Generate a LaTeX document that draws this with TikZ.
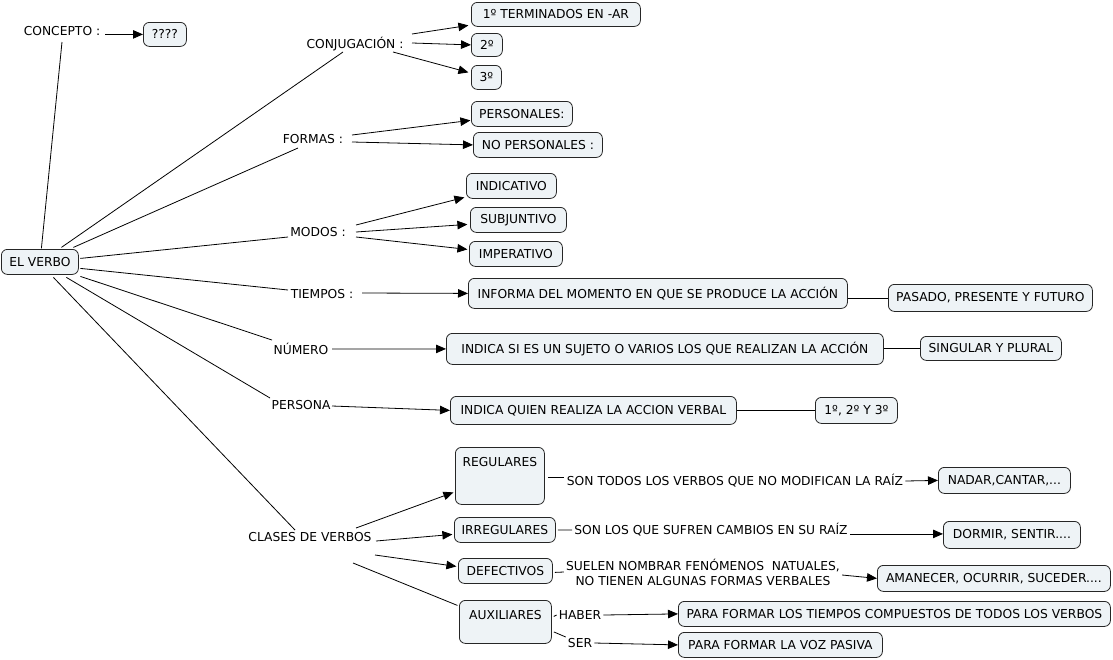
\documentclass[tikz,border=0pt]{standalone}
\usepackage{fontspec}
\setmainfont{DejaVu Sans}
\usetikzlibrary{arrows.meta,calc}
\definecolor{boxfill}{RGB}{238,243,246}
\begin{document}
\begin{tikzpicture}[x=1pt,y=-1pt,
  font=\fontsize{12.3}{15}\selectfont,
  box/.style={draw=black!85,fill=boxfill,rounded corners=6pt,line width=0.8pt,anchor=north west,inner sep=0pt},
  lbl/.style={inner sep=2pt},
  arr/.style={-{Triangle[length=10pt,width=8.5pt]},line width=0.8pt},
  ln/.style={line width=0.8pt}]
\useasboundingbox (0,0) rectangle (1113,659);
% boxes
\node[box,minimum width=43pt,minimum height=24pt] (q) at (143,22) {????};
\node[box,minimum width=77pt,minimum height=25pt] (verbo) at (1,249) {EL VERBO};
\node[box,minimum width=169pt,minimum height=24pt] (t1) at (471,2) {1º TERMINADOS EN -AR};
\node[box,minimum width=31pt,minimum height=23pt] (t2) at (471,33) {2º};
\node[box,minimum width=30pt,minimum height=24pt] (t3) at (471,65) {3º};
\node[box,minimum width=101pt,minimum height=25pt] (pers) at (471,101) {PERSONALES:};
\node[box,minimum width=129pt,minimum height=25pt] (nopers) at (473,132) {NO PERSONALES :};
\node[box,minimum width=90pt,minimum height=25pt] (ind) at (466,173) {INDICATIVO};
\node[box,minimum width=96pt,minimum height=25pt] (sub) at (470,207) {SUBJUNTIVO};
\node[box,minimum width=93pt,minimum height=25pt] (imp) at (469,241) {IMPERATIVO};
\node[box,minimum width=379pt,minimum height=30pt] (inf) at (468,278) {INFORMA DEL MOMENTO EN QUE SE PRODUCE LA ACCIÓN};
\node[box,minimum width=204pt,minimum height=27pt] (pas) at (888,284) {PASADO, PRESENTE Y FUTURO};
\node[box,minimum width=437pt,minimum height=31pt] (isi) at (446,333) {INDICA SI ES UN SUJETO O VARIOS LOS QUE REALIZAN LA ACCIÓN};
\node[box,minimum width=141pt,minimum height=24pt] (sing) at (920,336) {SINGULAR Y PLURAL};
\node[box,minimum width=286pt,minimum height=28pt] (iq) at (450,396) {INDICA QUIEN REALIZA LA ACCION VERBAL};
\node[box,minimum width=82pt,minimum height=26pt] (pers3) at (815,397) {1º, 2º Y 3º};
\node[box,minimum width=89pt,inner ysep=5pt,text height=14pt,text depth=33pt] (reg) at (455,447) {REGULARES};
\node[box,minimum width=132pt,minimum height=26pt] (nad) at (938,467) {NADAR,CANTAR,...};
\node[box,minimum width=101pt,minimum height=25pt] (irr) at (454,517) {IRREGULARES};
\node[box,minimum width=137pt,minimum height=27pt] (dor) at (943,521) {DORMIR, SENTIR....};
\node[box,minimum width=94pt,minimum height=25pt] (def) at (458,558) {DEFECTIVOS};
\node[box,minimum width=233pt,minimum height=26pt] (ama) at (877,565) {AMANECER, OCURRIR, SUCEDER....};
\node[box,minimum width=92pt,inner ysep=5pt,text height=14pt,text depth=19pt] (aux) at (459,600) {AUXILIARES};
\node[box,minimum width=432pt,minimum height=25pt] (ptc) at (678,601) {PARA FORMAR LOS TIEMPOS COMPUESTOS DE TODOS LOS VERBOS};
\node[box,minimum width=204pt,minimum height=25pt] (pvp) at (678,632) {PARA FORMAR LA VOZ PASIVA};
% labels
\node[lbl] (concepto) at (62,31) {CONCEPTO :};
\node[lbl] (conj) at (355,44) {CONJUGACIÓN :};
\node[lbl] (formas) at (313,139) {FORMAS :};
\node[lbl] (modos) at (318,232) {MODOS :};
\node[lbl] (tiempos) at (322,294) {TIEMPOS :};
\node[lbl] (numero) at (301,349) {NÚMERO};
\node[lbl] (persona) at (301,405) {PERSONA};
\node[lbl] (clases) at (310,537) {CLASES DE VERBOS};
\node[lbl] (sontodos) at (735,481) {SON TODOS LOS VERBOS QUE NO MODIFICAN LA RAÍZ};
\node[lbl] (sonlos) at (711,530) {SON LOS QUE SUFREN CAMBIOS EN SU RAÍZ};
\node[lbl,align=center] (suelen) at (703,572) {SUELEN NOMBRAR FENÓMENOS\ \ NATUALES,\\NO TIENEN ALGUNAS FORMAS VERBALES};
\node[lbl] (haber) at (580,615) {HABER};
\node[lbl] (ser) at (580,643) {SER};
% connectors from EL VERBO
\draw[ln] ($(verbo)+(1.5,-13.5)$) -- ($(concepto)+(0,11)$);
\draw[ln] ($(verbo)+(21.5,-14.5)$) -- ($(conj)+(-12,8)$);
\draw[ln] ($(verbo)+(33.5,-14.5)$) -- ($(formas)+(-15,9)$);
\draw[ln] ($(verbo)+(40.5,-3.5)$) -- ($(modos)+(-30,5)$);
\draw[ln] ($(verbo)+(40.5,6.5)$) -- ($(tiempos)+(-34,-4)$);
\draw[ln] ($(verbo)+(40.5,14.5)$) -- ($(numero)+(-29,-9)$);
\draw[ln] ($(verbo)+(26.5,15.5)$) -- ($(persona)+(-31,-7)$);
\draw[ln] ($(verbo)+(13.5,15.5)$) -- ($(clases)+(-15,-7)$);
% arrows
\draw[arr] ($(concepto.east |- q.west)+(3,0)$) -- (q.west);
\draw[arr] ($(conj)+(57,-10)$) -- ($(t1)+(-87.5,11)$);
\draw[arr] ($(conj)+(57,-1)$) -- (t2.west);
\draw[arr] ($(conj)+(38,8)$) -- ($(t3)+(-18,-5)$);
\draw[arr] ($(formas)+(39,-4)$) -- ($(pers)+(-51.5,6.5)$);
\draw[arr] ($(formas)+(39,3)$) -- (nopers.west);
\draw[arr] ($(modos)+(38,-7)$) -- ($(ind)+(-47,11.5)$);
\draw[arr] ($(modos)+(38,0)$) -- ($(sub)+(-51,4.5)$);
\draw[arr] ($(modos)+(38,5)$) -- ($(imp)+(-48.5,-4.5)$);
\draw[arr] ($(tiempos)+(40,-1)$) -- (inf.west);
\draw[arr] ($(numero)+(31,0)$) -- (isi.west);
\draw[arr] ($(persona)+(31,1)$) -- (iq.west);
\draw[ln] (inf.east |- pas.west) -- (pas.west);
\draw[ln] (isi.east |- sing.west) -- (sing.west);
\draw[ln] (iq.east) -- (pers3.west);
\draw[arr] ($(clases)+(46,-9)$) -- ($(reg)+(-46.5,16.5)$);
\draw[arr] ($(clases)+(66,4)$) -- ($(irr)+(-52.5,4.5)$);
\draw[arr] ($(clases)+(65,18)$) -- ($(def)+(-49,-4.5)$);
\draw[ln] ($(clases)+(43,26)$) -- ($(aux)+(-48,-16.5)$);
\draw[ln] ($(reg.east)+(3,1.5)$) -- ($(sontodos.west |- reg.east)+(-1,1.5)$);
\draw[arr] (sontodos.east) -- (nad.west);
\draw[ln] ($(irr.east)+(2,0)$) -- (sonlos.west);
\draw[arr] ($(sonlos.east |- dor.west)+(0,-1)$) -- ($(dor.west)+(0,-1)$);
\draw[ln] ($(def.east)+(2,1.5)$) -- ($(suelen.west)+(0,0)$);
\draw[arr] ($(suelen.east)+(0,3)$) -- (ama.west);
\draw[ln] ($(aux.east)+(2,-5.5)$) -- (haber.west);
\draw[ln] ($(aux.east)+(2,10)$) -- ($(ser.west)+(0,-6)$);
\draw[arr] (haber.east) -- (ptc.west);
\draw[arr] (ser.east) -- (pvp.west);
\end{tikzpicture}
\end{document}
